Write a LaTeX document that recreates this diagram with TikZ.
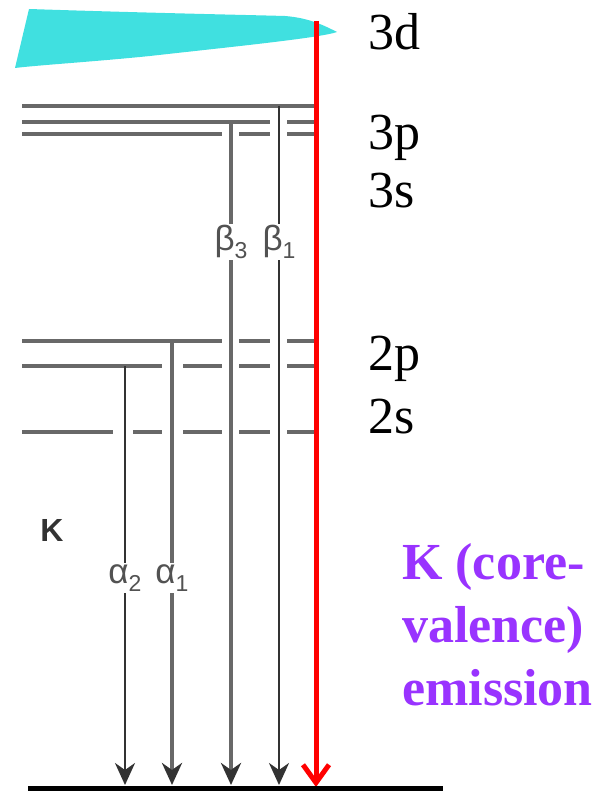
\documentclass[tikz,border=0pt]{standalone}
\usepackage{fontspec}
\setmainfont{Liberation Serif}
\newfontfamily\labelfont{Liberation Sans}
\usetikzlibrary{arrows.meta,positioning}
\definecolor{dbandcyan}{RGB}{64,224,224}
\definecolor{emitpurple}{RGB}{153,51,255}
\definecolor{levelgray}{RGB}{104,104,104}
\definecolor{headgray}{RGB}{51,51,51}
\newcommand{\lsub}[1]{\raisebox{-0.22em}{\fontsize{23}{23}\selectfont #1}}

\begin{document}
\begin{tikzpicture}[
    x=1pt,y=-1pt,
    level/.style={draw=levelgray,line width=3.5pt},
    xray/.style={draw=levelgray,line width=4pt,
      -{Stealth[length=22pt,width=20pt,inset=7pt,color=headgray]}},
    xthin/.style={xray,draw=headgray,line width=2.5pt},
    kbeta/.style={draw=red,line width=5pt,-{Straight Barb[length=18pt,width=26pt]}},
    orbital/.style={anchor=base west,inner sep=0pt,font=\fontsize{52}{52}\selectfont},
    greek/.style={fill=white,inner sep=1.5pt,text=headgray!85,font=\labelfont\fontsize{35}{35}\selectfont},
    emit/.style={anchor=base west,inner sep=0pt,text=emitpurple,font=\bfseries\fontsize{52}{52}\selectfont}
  ]
    \useasboundingbox (0,0) rectangle (611,791);

    \fill[dbandcyan] (29,9) .. controls (150,13) and (250,15) .. (285,16)
      .. controls (310,18) and (325,26) .. (337,32)
      .. controls (320,38) and (230,47) .. (150,56)
      .. controls (90,62) and (40,65) .. (15,68) -- cycle;

    \foreach \a/\b in {22/316} \draw[level] (\a,106) -- (\b,106);
    \foreach \a/\b in {22/270,287/316} \draw[level] (\a,122) -- (\b,122);
    \foreach \a/\b in {22/222,239/270,287/316} \draw[level] (\a,134) -- (\b,134);
    \foreach \a/\b in {22/222,239/270,287/316} \draw[level] (\a,341) -- (\b,341);
    \foreach \a/\b in {22/162,183/222,239/270,287/316} \draw[level] (\a,366) -- (\b,366);
    \foreach \a/\b in {22/113,133/162,183/222,239/270,287/316} \draw[level] (\a,432) -- (\b,432);

    \coordinate (gnd) at (0,785);
    \coordinate (a2top) at (125,366);
    \coordinate (a1top) at (172,341);
    \coordinate (b3top) at (231,122);
    \coordinate (b1top) at (279,106);
    \coordinate (kvtop) at (316,21);
    \coordinate (kvend) at (316,787);
    \coordinate (floorl) at (28,788.5);
    \coordinate (floorr) at (443,788.5);

    \draw[xthin] (a2top) -- node[greek,pos=0.506] (a2lab) {α\lsub{2}} (a2top |- gnd);
    \draw[xray] (a1top) -- node[greek,pos=0.534] (a1lab) {α\lsub{1}} (a1top |- gnd);
    \draw[xray] (b3top) -- node[greek,pos=0.181] (b3lab) {β\lsub{3}} (b3top |- gnd);
    \draw[xthin] (b1top) -- node[greek,pos=0.2] (b1lab) {β\lsub{1}} (b1top |- gnd);
    \draw[kbeta] (kvtop) -- (kvend);
    \draw[line width=5pt] (floorl) -- (floorr);

    \node[text=headgray,font=\labelfont\bfseries\fontsize{32}{32}\selectfont] (kshell) at (52,530) {K};

    \node[orbital] (o3d) at (368,50) {3d};
    \node[orbital] (o3p) at (368,150) {3p};
    \node[orbital] (o3s) at (368,208) {3s};
    \node[orbital] (o2p) at (368,370) {2p};
    \node[orbital] (o2s) at (368,433) {2s};

    \node[emit] (emk) at (402,579) {K (core-};
    \node[emit] (emv) at (402,642) {valence)};
    \node[emit] (eme) at (402,705) {emission};
\end{tikzpicture}
\end{document}
